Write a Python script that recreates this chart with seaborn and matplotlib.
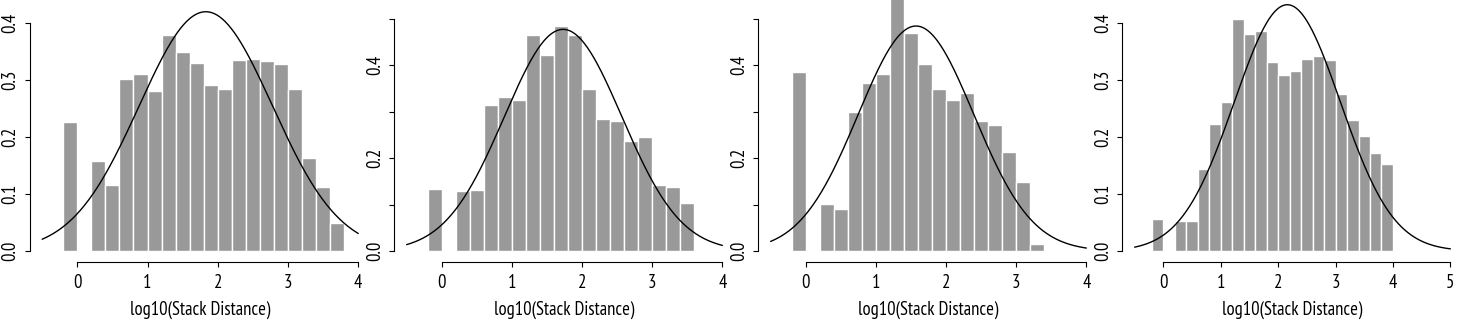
import numpy as np
import pandas as pd
import matplotlib
matplotlib.use("Agg")
import matplotlib.pyplot as plt
from matplotlib import font_manager
import seaborn as sns

# ---------------- data ----------------
bin_width = 0.2
bin_start = -0.2

# densities per bin, starting at -0.2 (bin [0, 0.2] is empty)
density_1 = [0.227, 0.0, 0.158, 0.116, 0.302, 0.311, 0.281, 0.380, 0.350, 0.330,
             0.292, 0.285, 0.336, 0.337, 0.333, 0.329, 0.285, 0.163, 0.112, 0.049]
density_2 = [0.133, 0.0, 0.129, 0.131, 0.314, 0.331, 0.325, 0.465, 0.422, 0.484,
             0.465, 0.348, 0.284, 0.280, 0.237, 0.245, 0.142, 0.138, 0.103]
density_3 = [0.386, 0.0, 0.102, 0.090, 0.299, 0.361, 0.381, 0.560, 0.469, 0.402,
             0.348, 0.325, 0.340, 0.280, 0.271, 0.213, 0.148, 0.015]
density_4 = [0.056, 0.0, 0.053, 0.052, 0.144, 0.223, 0.262, 0.408, 0.381, 0.387,
             0.332, 0.309, 0.316, 0.337, 0.343, 0.336, 0.276, 0.230, 0.202, 0.172,
             0.153]

# fitted normal curves
curve_mean = [1.83, 1.73, 1.572, 2.16]
curve_sd = [0.949, 0.837, 0.8245, 0.922]
curve_from = [-0.5, -0.5, -0.5, -0.5]
curve_to = [4.0, 4.0, 4.0, 5.0]

x_ticks = [[0, 1, 2, 3, 4], [0, 1, 2, 3, 4], [0, 1, 2, 3, 4], [0, 1, 2, 3, 4, 5]]
y_ticks = [[0.0, 0.1, 0.2, 0.3, 0.4],
           [0.0, 0.1, 0.2, 0.3, 0.4, 0.5],
           [0.0, 0.1, 0.2, 0.3, 0.4, 0.5],
           [0.0, 0.1, 0.2, 0.3, 0.4]]
y_labels = [["0.0", "0.1", "0.2", "0.3", "0.4"],
            ["0.0", "", "0.2", "", "0.4", ""],
            ["0.0", "", "0.2", "", "0.4", ""],
            ["0.0", "0.1", "0.2", "0.3", "0.4"]]
x_label = "log10(Stack Distance)"

densities = [density_1, density_2, density_3, density_4]

# ---------------- layout (pixels) ----------------
W, H = 1469, 325
panels = [
    (29.5, 370.9, (-0.68, 4.18)),
    (394.0, 735.0, (-0.68, 4.18)),
    (758.0, 1099.0, (-0.68, 4.18)),
    (1122.0, 1463.0, (-0.72, 5.22)),
]
bottom_px = 261.7
zero_px = 251.0
unit_px = [569.2, 465.0, 465.0, 569.2]

# pick a narrow sans font if one is installed
available = set(f.name for f in font_manager.fontManager.ttflist)
preferred = ["Liberation Sans Narrow", "Arial Narrow", "PT Sans Narrow",
             "Roboto Condensed", "Archivo Narrow", "IBM Plex Sans Condensed",
             "Sofia Sans Semi Condensed", "Liberation Sans"]
font_name = next((n for n in preferred if n in available), "DejaVu Sans")

sns.set_theme(style="white")
plt.rcParams["font.family"] = [font_name, "Liberation Sans", "DejaVu Sans"]
plt.rcParams["axes.linewidth"] = 0.8

fig = plt.figure(figsize=(W / 100, H / 100), dpi=100)

# size text so the x label is about as wide as in the reference
probe = fig.text(0, 0, x_label, fontsize=10)
fig.canvas.draw()
probe_w = probe.get_window_extent().width
probe.remove()
font_size = min(13.4, 10 * 149.0 / probe_w)

for i in range(4):
    left, right, xlim = panels[i]
    ax = fig.add_axes([left / W, 1 - bottom_px / H, (right - left) / W, bottom_px / H])
    dens = densities[i]
    edges = [round(bin_start + bin_width * k, 10) for k in range(len(dens) + 1)]
    centers = [(edges[k] + edges[k + 1]) / 2 for k in range(len(dens))]
    df = pd.DataFrame({"x": centers, "w": dens})
    sns.histplot(data=df, x="x", weights="w", bins=edges, stat="count",
                 color="#999999", edgecolor="white", linewidth=1.0, alpha=1,
                 ax=ax)
    xs = np.linspace(curve_from[i], curve_to[i], 300)
    ys = np.exp(-0.5 * ((xs - curve_mean[i]) / curve_sd[i]) ** 2) / (curve_sd[i] * np.sqrt(2 * np.pi))
    sns.lineplot(x=xs, y=ys, color="black", linewidth=1.0, ax=ax)

    u = unit_px[i]
    ax.set_xlim(*xlim)
    ax.set_ylim(-(bottom_px - zero_px) / u, zero_px / u)

    for s in ["top", "right"]:
        ax.spines[s].set_visible(False)
    for s in ["left", "bottom"]:
        ax.spines[s].set_color("black")
        ax.spines[s].set_linewidth(0.8)
    ax.spines["left"].set_bounds(y_ticks[i][0], y_ticks[i][-1])
    ax.spines["bottom"].set_bounds(x_ticks[i][0], x_ticks[i][-1])

    ax.set_xticks(x_ticks[i])
    ax.set_xticklabels([str(t) for t in x_ticks[i]])
    ax.set_yticks(y_ticks[i])
    ax.set_yticklabels(y_labels[i], rotation=90, va="center")
    ax.tick_params(axis="both", direction="out", length=3.6, width=0.8,
                   colors="black", labelsize=font_size, left=True, bottom=True)
    ax.tick_params(axis="x", pad=5.5)
    ax.tick_params(axis="y", pad=3.5)
    ax.set_xlabel(x_label, fontsize=font_size, color="black", labelpad=6)
    ax.set_ylabel("")
    ax.grid(False)

fig.savefig("out.png", dpi=100)
